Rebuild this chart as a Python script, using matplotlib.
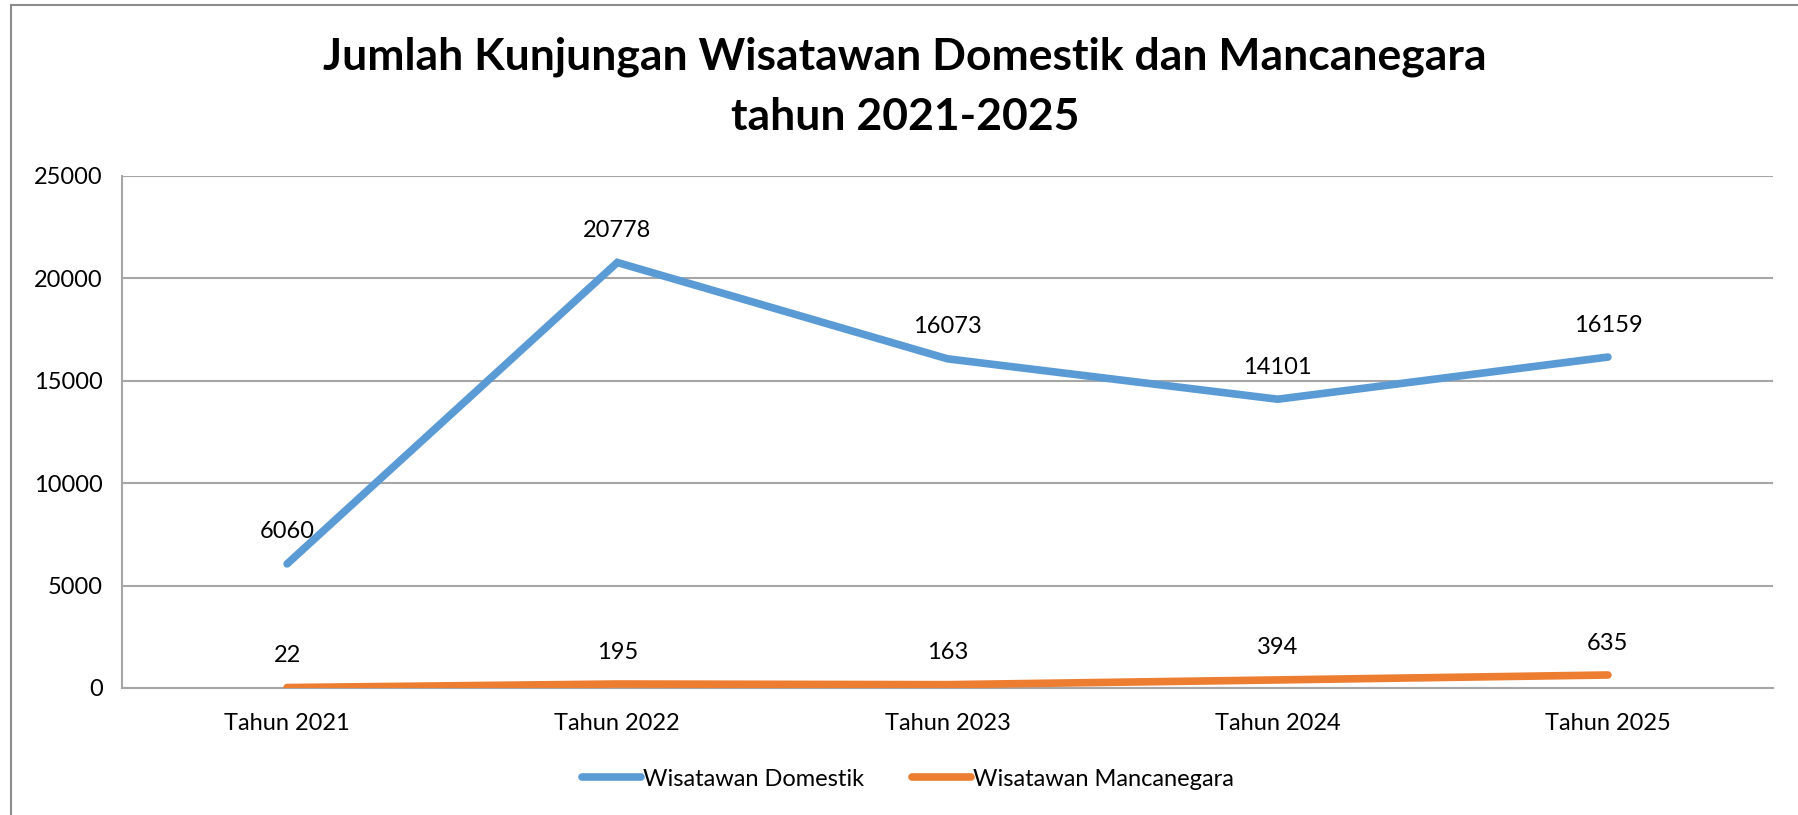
import matplotlib
matplotlib.use("Agg")
import matplotlib.pyplot as plt
from matplotlib.patches import Rectangle

# --- Data ---
categories = ["Tahun 2021", "Tahun 2022", "Tahun 2023", "Tahun 2024", "Tahun 2025"]
domestik = [6060, 20778, 16073, 14101, 16159]
mancanegara = [22, 195, 163, 394, 635]
series_names = ["Wisatawan Domestik", "Wisatawan Mancanegara"]
y_ticks = [0, 5000, 10000, 15000, 20000, 25000]

BLUE = "#5B9BD5"
ORANGE = "#ED7D31"
GRID = "#A6A6A6"

plt.rcParams["font.family"] = ["Lato", "DejaVu Sans"]

W, H = 1798, 815
fig = plt.figure(figsize=(W / 100, H / 100), dpi=100)

# outer chart border (cropped on right/bottom)
fig.patches.append(Rectangle((11 / W, -0.1), 2.0, (H - 5) / H + 0.1,
                             transform=fig.transFigure, fill=False,
                             edgecolor="#8C8C8C", linewidth=1.5))

ax = fig.add_axes([122 / W, (H - 688) / H, 1651 / W, 512 / H])

x = list(range(len(categories)))
for vals, color, name in [(domestik, BLUE, series_names[0]), (mancanegara, ORANGE, series_names[1])]:
    ax.plot(x, vals, color=color, linewidth=5.5, solid_capstyle="round",
            solid_joinstyle="miter", label=name, zorder=3)
    for xi, v in zip(x, vals):
        ax.annotate(str(v), (xi, v), xytext=(0, 23), textcoords="offset points",
                    ha="center", va="center", fontsize=17, color="black")

ax.set_xlim(-0.5, len(categories) - 0.5)
ax.set_ylim(0, 25000)
ax.set_yticks(y_ticks)
ax.set_yticklabels([str(t) for t in y_ticks])
ax.set_xticks(x)
ax.set_xticklabels(categories)
ax.tick_params(axis="both", length=0, labelsize=17, colors="black")
ax.tick_params(axis="y", pad=14)
ax.tick_params(axis="x", pad=18)

ax.grid(axis="y", color=GRID, linewidth=1.5)
ax.set_axisbelow(True)
for side in ["top", "right"]:
    ax.spines[side].set_visible(False)
for side in ["left", "bottom"]:
    ax.spines[side].set_color(GRID)
    ax.spines[side].set_linewidth(1.5)

fig.text(905 / W, 1 - 57 / H, "Jumlah Kunjungan Wisatawan Domestik dan Mancanegara",
         ha="center", va="center", fontsize=32, fontweight="bold")
fig.text(905 / W, 1 - 117 / H, "tahun 2021-2025",
         ha="center", va="center", fontsize=32, fontweight="bold")

fig.legend(loc="center", bbox_to_anchor=(908 / W, 1 - 779 / H), ncol=2,
           frameon=False, fontsize=17, handlelength=2.5, handletextpad=0.1,
           columnspacing=2.0)

fig.savefig("out.png", dpi=100)
